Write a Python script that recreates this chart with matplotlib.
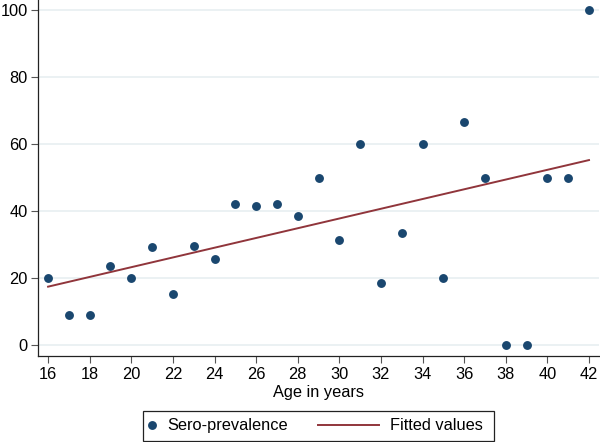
import numpy as np
import matplotlib.pyplot as plt
from matplotlib.lines import Line2D
from matplotlib.patches import Rectangle

plt.rcParams['font.family'] = ['Liberation Sans', 'DejaVu Sans']

# Data
ages = [16, 17, 18, 19, 20, 21, 22, 23, 24, 25, 26, 27, 28, 29,
        30, 31, 32, 33, 34, 35, 36, 37, 38, 39, 40, 41, 42]
prevalence = [20.0, 9.1, 9.1, 23.8, 20.0, 29.4, 15.4, 29.7, 25.9, 42.3,
              41.7, 42.1, 38.6, 50.0, 31.4, 60.0, 18.7, 33.4, 60.0, 20.0,
              66.8, 50.0, 0.0, 0.0, 50.0, 50.0, 100.0]
fit_ages = [16, 42]
fit_vals = [17.5, 55.3]

xticks = list(range(16, 43, 2))
yticks = [0, 20, 40, 60, 80, 100]

navy = '#1a476f'
maroon = '#90353b'
fs = 11.8

fig = plt.figure(figsize=(6, 4.42), dpi=100)
ax = fig.add_axes([0.0628, 0.1946, 0.9362, 0.8054])

ax.plot(fit_ages, fit_vals, color=maroon, lw=1.4, zorder=2)
ax.plot(ages, prevalence, 'o', color=navy, ms=6.4, mec='none', zorder=3)

ax.set_xlim(15.5, 42.5)
ax.set_ylim(-3.2, 103.1)
ax.set_xticks(xticks)
ax.set_yticks(yticks)
ax.grid(axis='y', color='#e6eef0', lw=1.1, zorder=0)
ax.set_axisbelow(True)

for s in ['top', 'right']:
    ax.spines[s].set_visible(False)
for s in ['left', 'bottom']:
    ax.spines[s].set_color('#222222')
    ax.spines[s].set_linewidth(0.9)

ax.tick_params(axis='both', direction='out', length=5, width=0.8,
               color='#555555', labelsize=fs, pad=2)
ax.tick_params(axis='x', pad=3)
ax.set_xlabel('Age in years', fontsize=fs, labelpad=2)

# legend: two parts inside a single box
h1 = Line2D([], [], ls='none', marker='o', color=navy, ms=6.4, mec='none')
h2 = Line2D([], [], color=maroon, lw=1.4)
leg1 = fig.legend([h1], ['Sero-prevalence'], loc='center left',
                  bbox_to_anchor=(0.2445, 0.0366), frameon=False,
                  fontsize=fs, handlelength=0.6, handletextpad=0.68,
                  borderaxespad=0, borderpad=0)
leg2 = fig.legend([h2], ['Fitted values'], loc='center left',
                  bbox_to_anchor=(0.53, 0.0366), frameon=False,
                  fontsize=fs, handlelength=3.7, handletextpad=0.7,
                  borderaxespad=0, borderpad=0)
fig.add_artist(Rectangle((142.7 / 600, 1 / 442), (494 - 142.7) / 600,
                         (441 - 410.7) / 442, transform=fig.transFigure,
                         fill=False, ec='#222222', lw=0.9))

plt.savefig('out.png', dpi=100)
